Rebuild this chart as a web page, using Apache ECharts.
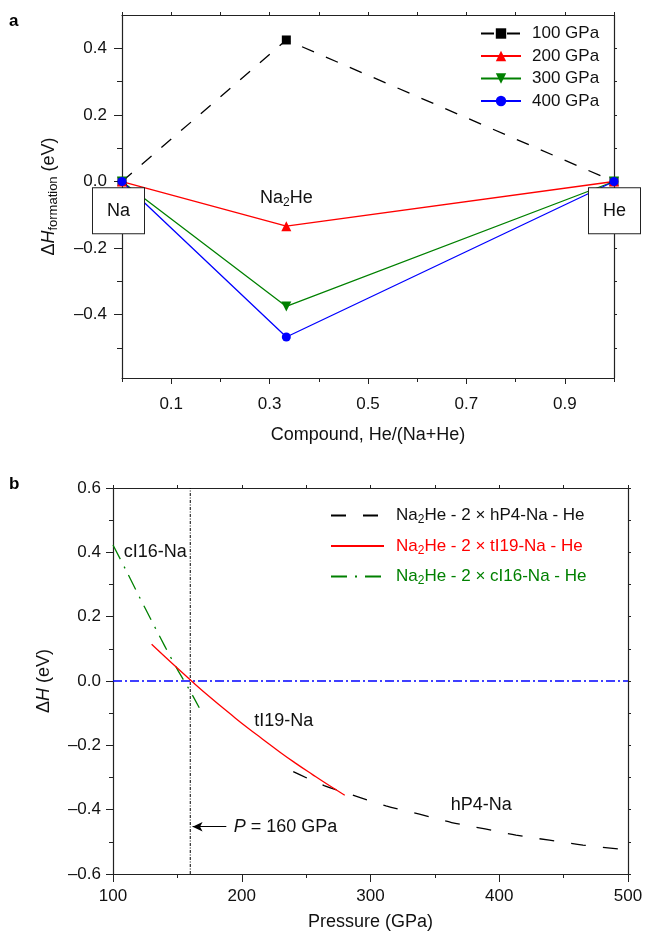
<!DOCTYPE html>
<html><head><meta charset="utf-8">
<script src="https://cdn.jsdelivr.net/npm/echarts@6/dist/echarts.min.js"></script>
<style>html,body{margin:0;padding:0;background:#fff}#c{width:646px;height:931px}</style>
</head><body><div id="c"></div>
<script>
// ---------- Panel a data ----------
const compoundX = [0, 0.334, 1];
const pressureNames = ['100 GPa', '200 GPa', '300 GPa', '400 GPa'];
const dH100 = [0, 0.425, 0];
const dH200 = [0, -0.134, 0];
const dH300 = [0, -0.375, 0];
const dH400 = [0, -0.467, 0];
const aYLabelTicks = [-0.4, -0.2, 0, 0.2, 0.4];
const aYMinorTicks = [-0.5, -0.3, -0.1, 0.1, 0.3];
const aYAllTicks = [-0.5, -0.4, -0.3, -0.2, -0.1, 0, 0.1, 0.2, 0.3, 0.4];
const aXLabelTicks = [0.1, 0.3, 0.5, 0.7, 0.9];
const aXMinorTicks = [0, 0.2, 0.4, 0.6, 0.8, 1.0];
const endpointNames = ['Na', 'He'];
const endpointPos = [[0, -0.088], [1, -0.088]];
const compoundLabelPos = [0.334, -0.05];

// ---------- Panel b data ----------
const hP4P = [240, 264, 288, 312, 338, 363, 389, 413, 439, 465, 500];
const hP4H = [-0.282, -0.325, -0.357, -0.388, -0.414, -0.440, -0.460, -0.479, -0.495, -0.510, -0.525];
const tI19P = [130, 145, 161, 175, 191, 205, 216, 230, 242, 255, 268, 280];
const tI19H = [0.114, 0.058, 0, -0.049, -0.102, -0.147, -0.180, -0.222, -0.256, -0.291, -0.325, -0.355];
const cI16P = [100, 110, 125, 140, 150, 160, 167];
const cI16H = [0.423, 0.345, 0.226, 0.110, 0.036, -0.032, -0.083];
const zeroLineP = [100, 500];
const zeroLineH = [0, 0];
const transitionP = 160;
const bYRange = [-0.6, 0.6];
const seriesNamesB = ['Na2He - 2 × hP4-Na - He', 'Na2He - 2 × tI19-Na - He', 'Na2He - 2 × cI16-Na - He'];
const phaseLabels = ['cI16-Na', 'tI19-Na', 'hP4-Na'];
const phaseLabelPos = [[132.8, 0.40], [232.7, -0.123], [386, -0.386]];
const arrowY = -0.453;

const zip = (xs, ys) => xs.map((x, i) => [x, ys[i]]);
const FONT = '"Liberation Sans", Arial, Helvetica, sans-serif';
const AX = '#222';
const TXT = '#111';
const fmt = v => (v < 0 ? '\u2013' : '') + Math.abs(v).toFixed(1);
const GREEN = '#008000', RED = '#ff0000', BLUE = '#0000ff';

const chart = echarts.init(document.getElementById('c'), null, {renderer: 'canvas'});

const gridA = {left: 122, top: 15, width: 492, height: 363, outerBoundsMode: 'none', containLabel: false};
const gridB = {left: 113, top: 488, width: 515, height: 386, outerBoundsMode: 'none', containLabel: false};

const lineAx = {show: true, onZero: false, lineStyle: {color: AX, width: 1.2}};
const noAx = {show: false, onZero: false};
const subStyle = c => ({color: c, fontSize: 12, padding: [9, 0, 0, 0], fontFamily: FONT});

const option = {
  animation: false,
  backgroundColor: '#fff',
  textStyle: {fontFamily: FONT},
  grid: [
    Object.assign({}, gridA),
    Object.assign({}, gridB),
    Object.assign({}, gridA)
  ],
  xAxis: [
    {gridIndex: 0, type: 'value', min: 0, max: 1, position: 'bottom',
      axisLine: lineAx, splitLine: {show: false},
      axisTick: {customValues: aXLabelTicks, length: 6, lineStyle: {color: AX}},
      axisLabel: {customValues: aXLabelTicks, margin: 18, fontSize: 17, color: TXT, fontFamily: FONT, formatter: v => v.toFixed(1)},
      name: 'Compound, He/(Na+He)', nameLocation: 'middle', nameGap: 48,
      nameTextStyle: {fontSize: 18, color: TXT, fontFamily: FONT}},
    {gridIndex: 0, type: 'value', min: 0, max: 1, interval: 0.1, position: 'top',
      axisLine: lineAx, splitLine: {show: false},
      axisTick: {length: 3, lineStyle: {color: AX}}, axisLabel: {show: false}},
    {gridIndex: 1, type: 'value', min: 100, max: 500, interval: 100, position: 'bottom',
      axisLine: lineAx, splitLine: {show: false},
      axisTick: {length: 8, lineStyle: {color: AX}},
      minorTick: {show: true, splitNumber: 2, length: 4, lineStyle: {color: AX}},
      axisLabel: {margin: 14, fontSize: 17, color: TXT, fontFamily: FONT},
      name: 'Pressure (GPa)', nameLocation: 'middle', nameGap: 39,
      nameTextStyle: {fontSize: 18, color: TXT, fontFamily: FONT}},
    {gridIndex: 1, type: 'value', min: 100, max: 500, interval: 50, position: 'top',
      axisLine: lineAx, splitLine: {show: false},
      axisTick: {length: 3, lineStyle: {color: AX}}, axisLabel: {show: false}},
    {gridIndex: 2, type: 'value', min: 0, max: 1, position: 'bottom',
      axisLine: noAx, splitLine: {show: false},
      axisTick: {customValues: aXMinorTicks, length: 4, lineStyle: {color: AX}},
      axisLabel: {show: false}}
  ],
  yAxis: [
    {gridIndex: 0, type: 'value', min: -0.59, max: 0.5, position: 'left',
      axisLine: lineAx, splitLine: {show: false},
      axisTick: {customValues: aYLabelTicks, length: 8, lineStyle: {color: AX}},
      axisLabel: {customValues: aYLabelTicks, margin: 15, fontSize: 17, color: TXT, fontFamily: FONT, formatter: fmt},
      name: '{n|Δ}{i|H}{s|formation}{n| (eV)}', nameLocation: 'middle', nameRotate: 90, nameGap: 62,
      nameTextStyle: {fontSize: 18, color: TXT, fontFamily: FONT,
        rich: {n: {fontSize: 18, fontFamily: FONT, color: TXT},
               i: {fontSize: 18, fontStyle: 'italic', fontFamily: FONT, color: TXT},
               s: {fontSize: 13, fontFamily: FONT, color: TXT, padding: [9, 0, 0, 0]}}}},
    {gridIndex: 0, type: 'value', min: -0.59, max: 0.5, position: 'right',
      axisLine: lineAx, splitLine: {show: false},
      axisTick: {customValues: aYAllTicks, length: 3, lineStyle: {color: AX}},
      axisLabel: {show: false}},
    {gridIndex: 1, type: 'value', min: bYRange[0], max: bYRange[1], interval: 0.2, position: 'left',
      axisLine: lineAx, splitLine: {show: false},
      axisTick: {length: 7, lineStyle: {color: AX}},
      minorTick: {show: true, splitNumber: 2, length: 4, lineStyle: {color: AX}},
      axisLabel: {margin: 12, fontSize: 17, color: TXT, fontFamily: FONT, formatter: fmt},
      name: '{n|Δ}{i|H}{n| (eV)}', nameLocation: 'middle', nameRotate: 90, nameGap: 60,
      nameTextStyle: {fontSize: 18, color: TXT, fontFamily: FONT,
        rich: {n: {fontSize: 18, fontFamily: FONT, color: TXT},
               i: {fontSize: 18, fontStyle: 'italic', fontFamily: FONT, color: TXT}}}},
    {gridIndex: 1, type: 'value', min: bYRange[0], max: bYRange[1], interval: 0.1, position: 'right',
      axisLine: lineAx, splitLine: {show: false},
      axisTick: {length: 3, lineStyle: {color: AX}}, axisLabel: {show: false}},
    {gridIndex: 2, type: 'value', min: -0.59, max: 0.5, position: 'left',
      axisLine: noAx, splitLine: {show: false},
      axisTick: {customValues: aYMinorTicks, length: 5, lineStyle: {color: AX}},
      axisLabel: {show: false}}
  ],
  legend: [
    {data: pressureNames, orient: 'vertical', left: 480, top: 25, padding: 0,
      itemWidth: 40, itemHeight: 13, itemGap: 5.5,
      textStyle: {fontSize: 17, color: TXT, fontFamily: FONT, padding: [0, 0, 0, 6]}},
    {data: [
        {name: seriesNamesB[0], textStyle: {color: TXT, rich: {sub: subStyle(TXT)}}},
        {name: seriesNamesB[1], textStyle: {color: RED, rich: {sub: subStyle(RED)}}},
        {name: seriesNamesB[2], textStyle: {color: GREEN, rich: {sub: subStyle(GREEN)}}}
      ],
      orient: 'vertical', left: 330, top: 507, padding: 0,
      itemWidth: 53, itemHeight: 14, itemGap: 11.5,
      itemStyle: {opacity: 0},
      formatter: n => n.replace('Na2He', 'Na{sub|2}He'),
      textStyle: {fontSize: 17, fontFamily: FONT, padding: [0, 0, 0, 7],
        rich: {sub: subStyle(TXT)}}}
  ],
  graphic: [
    {type: 'text', left: 9, top: 13, style: {text: 'a', font: 'bold 17px ' + FONT, fill: '#000'}},
    {type: 'text', left: 9, top: 476, style: {text: 'b', font: 'bold 17px ' + FONT, fill: '#000'}}
  ],
  series: [
    {name: pressureNames[0], type: 'line', xAxisIndex: 0, yAxisIndex: 0, data: zip(compoundX, dH100),
      symbol: 'rect', symbolSize: 9, itemStyle: {color: '#000'},
      lineStyle: {color: '#000', width: 1.3, type: [13, 13]}, z: 3},
    {name: pressureNames[1], type: 'line', xAxisIndex: 0, yAxisIndex: 0, data: zip(compoundX, dH200),
      symbol: 'triangle', symbolSize: 10, itemStyle: {color: RED},
      lineStyle: {color: RED, width: 1.3}, z: 3},
    {name: pressureNames[2], type: 'line', xAxisIndex: 0, yAxisIndex: 0, data: zip(compoundX, dH300),
      symbol: 'triangle', symbolRotate: 180, symbolSize: 10, itemStyle: {color: GREEN},
      lineStyle: {color: GREEN, width: 1.3}, z: 3},
    {name: pressureNames[3], type: 'line', xAxisIndex: 0, yAxisIndex: 0, data: zip(compoundX, dH400),
      symbol: 'circle', symbolSize: 9, itemStyle: {color: BLUE},
      lineStyle: {color: BLUE, width: 1.3}, z: 3},
    {name: 'endpoints', type: 'scatter', xAxisIndex: 0, yAxisIndex: 0, clip: false, silent: true, z: 10,
      symbolSize: 0, itemStyle: {opacity: 1},
      data: endpointPos.map((p, i) => ({value: p, label: {formatter: endpointNames[i], offset: [i === 0 ? -3.5 : 0.5, 0]}})),
      label: {show: true, position: 'inside', fontSize: 18, color: TXT, fontFamily: FONT,
        backgroundColor: '#fff', borderColor: '#222', borderWidth: 1, padding: [14, 14, 13, 14]}},
    {name: 'compound', type: 'scatter', xAxisIndex: 0, yAxisIndex: 0, silent: true, z: 10, symbolSize: 0,
      itemStyle: {opacity: 1},
      data: [compoundLabelPos],
      label: {show: true, position: 'inside', formatter: 'Na{sub|2}He', fontSize: 18, color: TXT, fontFamily: FONT,
        rich: {sub: subStyle(TXT)}}},

    {name: 'zero', type: 'line', xAxisIndex: 2, yAxisIndex: 2, data: zip(zeroLineP, zeroLineH),
      symbol: 'none', lineStyle: {color: BLUE, width: 1.5, type: [9, 3, 2, 3]}, z: 2},
    {name: 'transition', type: 'line', xAxisIndex: 2, yAxisIndex: 2,
      data: [[transitionP, bYRange[0]], [transitionP, bYRange[1]]],
      symbol: 'none', lineStyle: {color: '#000', width: 1, type: [3, 1.5, 1, 1.5]}, z: 2,
      markLine: {silent: true, symbol: ['none', 'arrow'], symbolSize: [7, 10],
        lineStyle: {color: '#000', width: 1.2, type: 'solid'}, label: {show: false},
        data: [[{coord: [188, arrowY]}, {coord: [161.8, arrowY]}]]}},
    {name: seriesNamesB[0], type: 'line', xAxisIndex: 2, yAxisIndex: 2, data: zip(hP4P, hP4H),
      symbol: 'none', smooth: 0.3, itemStyle: {color: '#000'},
      lineStyle: {color: '#000', width: 1.3, type: [15, 17]}, z: 3},
    {name: seriesNamesB[1], type: 'line', xAxisIndex: 2, yAxisIndex: 2, data: zip(tI19P, tI19H),
      symbol: 'none', smooth: 0.5, itemStyle: {color: RED},
      lineStyle: {color: RED, width: 1.3}, z: 4},
    {name: seriesNamesB[2], type: 'line', xAxisIndex: 2, yAxisIndex: 2, data: zip(cI16P, cI16H),
      symbol: 'none', smooth: 0.3, itemStyle: {color: GREEN},
      lineStyle: {color: GREEN, width: 1.3, type: [16, 8, 2, 8]}, z: 3},
    {name: 'phaseLabels', type: 'scatter', xAxisIndex: 2, yAxisIndex: 2, silent: true, z: 10, symbolSize: 0,
      itemStyle: {opacity: 1},
      data: phaseLabelPos.map((p, i) => ({value: p, label: {formatter: phaseLabels[i]}})),
      label: {show: true, position: 'inside', fontSize: 18, color: TXT, fontFamily: FONT}},
    {name: 'pLabel', type: 'scatter', xAxisIndex: 2, yAxisIndex: 2, silent: true, z: 10, symbolSize: 0,
      itemStyle: {opacity: 1},
      data: [[193.7, arrowY]],
      label: {show: true, position: 'right', distance: 0, formatter: '{i|P} = 160 GPa', fontSize: 18, color: TXT, fontFamily: FONT,
        rich: {i: {fontStyle: 'italic', fontSize: 18, color: TXT, fontFamily: FONT}}}}
  ]
};
chart.setOption(option);
</script>
</body></html>
